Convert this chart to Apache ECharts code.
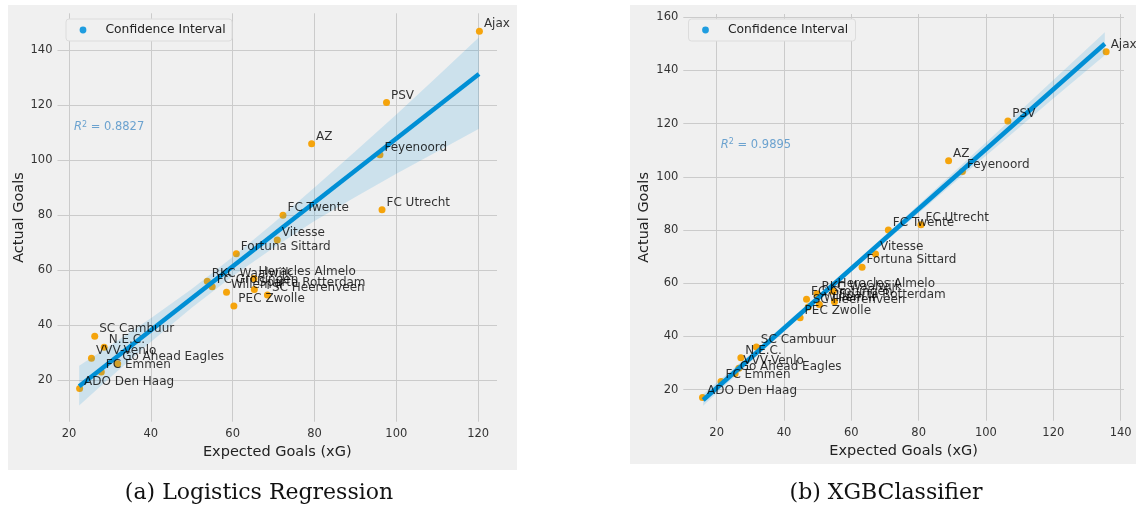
<!DOCTYPE html>
<html>
<head>
<meta charset="utf-8">
<script src="https://cdn.jsdelivr.net/npm/echarts@6/dist/echarts.min.js"></script>
<style>
  html, body { margin: 0; padding: 0; background: #fff; }
  #chart { width: 1136px; height: 511px; }
</style>
</head>
<body>
<div id="chart"></div>
<script>
// teams and goals (same in both panels)
const teams = ['Ajax', 'PSV', 'AZ', 'Feyenoord', 'FC Utrecht', 'FC Twente', 'Vitesse', 'Fortuna Sittard',
  'RKC Waalwijk', 'FC Groningen', 'Heracles Almelo', 'Sparta Rotterdam', 'Willem II', 'SC Heerenveen',
  'PEC Zwolle', 'SC Cambuur', 'N.E.C.', 'VVV-Venlo', 'Go Ahead Eagles', 'FC Emmen', 'ADO Den Haag']
const actualGoals = [147, 121, 106, 102, 82, 80, 71, 66, 56, 54, 57, 53, 52, 51, 47, 36, 32, 28, 26, 23, 17]

// expected goals per model
const xgLogReg = [120.3, 97.6, 79.3, 96.0, 96.5, 72.3, 70.9, 60.9, 53.8, 55.0, 65.2, 65.3, 58.5, 68.5,
  60.3, 26.3, 28.6, 25.5, 31.9, 27.9, 22.6]
const xgXgb = [135.7, 106.5, 88.9, 93.0, 80.7, 71.0, 67.2, 63.2, 49.8, 46.7, 54.6, 55.0, 50.5, 47.2,
  44.8, 31.8, 27.2, 26.6, 25.5, 21.3, 15.8]

// fitted lines (end points) and confidence bands
const lrFitX = [22.5, 120.2]
const lrFitY = [17.8, 131.4]
const lrBandX = [22.5, 30, 40, 50, 60, 70, 80, 90, 100, 110, 120.2]
const lrBandUpper = [25.3, 32.5, 42.5, 53.2, 64.8, 77.2, 90.1, 103.3, 116.7, 130.5, 144.8]
const lrBandLower = [10.8, 20.9, 33.9, 46.4, 57.8, 68.2, 77.9, 86.7, 95.1, 103.2, 111.5]

const xgbFitX = [16.0, 135.3]
const xgbFitY = [16.1, 150.0]
const xgbBandX = [16, 30, 45, 60, 75, 90, 105, 120, 135.3]
const xgbBandUpper = [18.3, 33.3, 49.8, 66.6, 83.7, 101.2, 118.7, 136.4, 154.3]
const xgbBandLower = [13.9, 30.3, 47.6, 64.4, 80.9, 97.2, 113.3, 129.4, 145.7]

const rSquared = ['0.8827', '0.9895']
const captions = ['(a) Logistics Regression', '(b) XGBClassifier']
const legendName = 'Confidence Interval'

const FONT = 'DejaVu Sans'
const BLUE = '#008fd5'
const ORANGE = '#f5a40c'
const CLEAR = 'rgba(0,0,0,0)'

function axisX(idx, min, max, split) {
  return {
    gridIndex: idx, type: 'value', min: min, max: max, splitNumber: split,
    name: 'Expected Goals (xG)', nameLocation: 'middle', nameGap: 20,
    nameTextStyle: { fontFamily: FONT, fontSize: 14.5, color: '#222' },
    axisLine: { show: false }, axisTick: { show: false },
    axisLabel: { showMinLabel: false, showMaxLabel: false, margin: 6, fontFamily: FONT, fontSize: 11.5, color: '#333' },
    splitLine: { show: true, showMinLine: false, showMaxLine: false, lineStyle: { color: '#cbcbcb', width: 1 } }
  }
}
function axisY(idx, min, max, split, gap) {
  return {
    gridIndex: idx, type: 'value', min: min, max: max, splitNumber: split,
    name: 'Actual Goals', nameLocation: 'middle', nameGap: gap,
    nameTextStyle: { fontFamily: FONT, fontSize: 14.5, color: '#222' },
    axisLine: { show: false }, axisTick: { show: false },
    axisLabel: { showMinLabel: false, showMaxLabel: false, margin: 5, fontFamily: FONT, fontSize: 11.5, color: '#333' },
    splitLine: { show: true, showMinLine: false, showMaxLine: false, lineStyle: { color: '#cbcbcb', width: 1 } }
  }
}

function bandSeries(idx, xs, up, lo) {
  return {
    name: legendName, type: 'custom', xAxisIndex: idx, yAxisIndex: idx, z: 2, silent: true,
    data: [0],
    renderItem: function(params, api) {
      const pts = []
      xs.forEach((x, i) => pts.push(api.coord([x, up[i]])))
      for (let i = xs.length - 1; i >= 0; i--) pts.push(api.coord([xs[i], lo[i]]))
      return { type: 'polygon', shape: { points: pts }, style: { fill: 'rgba(0,143,213,0.15)' } }
    }
  }
}

function panelSeries(idx, xg, fitX, fitY, bx, bu, bl, r2) {
  const pts = teams.map((t, i) => ({ name: t, value: [xg[i], actualGoals[i]] }))
  return [
    {
      type: 'scatter', xAxisIndex: idx, yAxisIndex: idx, z: 1, silent: true,
      symbolSize: 7, itemStyle: { color: ORANGE, opacity: 1 }, data: pts
    },
    bandSeries(idx, bx, bu, bl),
    {
      type: 'line', xAxisIndex: idx, yAxisIndex: idx, z: 3, silent: true, showSymbol: false,
      lineStyle: { color: BLUE, width: 4.5 }, data: fitX.map((x, i) => [x, fitY[i]])
    },
    {
      // team names on top of everything
      type: 'scatter', xAxisIndex: idx, yAxisIndex: idx, z: 5, silent: true,
      symbolSize: 1, itemStyle: { color: CLEAR }, data: pts,
      label: {
        show: true, position: 'right', distance: 4, offset: [0, -7], formatter: '{b}',
        fontFamily: FONT, fontSize: 12, color: '#000'
      }
    },
    {
      type: 'scatter', xAxisIndex: idx, yAxisIndex: idx, z: 5, silent: true,
      symbolSize: 1, itemStyle: { color: CLEAR }, data: [[21.1, 112]],
      label: {
        show: true, position: 'right', distance: 0,
        formatter: '{i|R}{s|2}{n| = ' + r2 + '}',
        rich: {
          i: { fontFamily: FONT, fontStyle: 'italic', fontSize: 11.5, color: '#4a8fc7' },
          s: { fontFamily: FONT, fontSize: 8, color: '#4a8fc7', verticalAlign: 'top', padding: [0, 0, 5, 0] },
          n: { fontFamily: FONT, fontSize: 11.5, color: '#4a8fc7' }
        }
      }
    }
  ]
}

// matplotlib style legend box
function legendBox(x, y, w, h) {
  return [
    { type: 'rect', z: 20, shape: { x: x, y: y, width: w, height: h, r: 3 },
      style: { fill: '#f0f0f0', stroke: '#dcdcdc', lineWidth: 1 } },
    { type: 'circle', z: 21, shape: { cx: x + 17, cy: y + 11, r: 3.4 }, style: { fill: '#1f9de0' } },
    { type: 'text', z: 21, x: x + 39.5, y: y + 10.5,
      style: { text: legendName, fontFamily: FONT, fontSize: 12.3, fill: '#222', verticalAlign: 'middle' } }
  ]
}

const option = {
  animation: false,
  graphic: [
    { type: 'rect', z: -10, shape: { x: 8, y: 5, width: 509, height: 465 }, style: { fill: '#f0f0f0' } },
    { type: 'rect', z: -10, shape: { x: 630, y: 5, width: 506, height: 459 }, style: { fill: '#f0f0f0' } },
    { type: 'text', x: 259, y: 493, style: { text: captions[0], fontFamily: 'DejaVu Serif', fontSize: 22, fill: '#111', align: 'center', verticalAlign: 'middle' } },
    { type: 'text', x: 886, y: 493, style: { text: captions[1], fontFamily: 'DejaVu Serif', fontSize: 22, fill: '#111', align: 'center', verticalAlign: 'middle' } }
  ].concat(legendBox(66, 19, 166, 22), legendBox(688.5, 19, 167, 22)),
  grid: [
    { left: 57.5, top: 13.3, width: 439.5, height: 408.4 },
    { left: 683.3, top: 14, width: 440.7, height: 406.7 }
  ],
  xAxis: [axisX(0, 17.2, 124.6, 5), axisX(1, 10.1, 141, 6)],
  yAxis: [axisY(0, 4.9, 153.5, 7, 30), axisY(1, 8.3, 161.2, 7, 32)],
  series: [].concat(
    panelSeries(0, xgLogReg, lrFitX, lrFitY, lrBandX, lrBandUpper, lrBandLower, rSquared[0]),
    panelSeries(1, xgXgb, xgbFitX, xgbFitY, xgbBandX, xgbBandUpper, xgbBandLower, rSquared[1])
  )
}

const chart = echarts.init(document.getElementById('chart'))
chart.setOption(option)
</script>
</body>
</html>
